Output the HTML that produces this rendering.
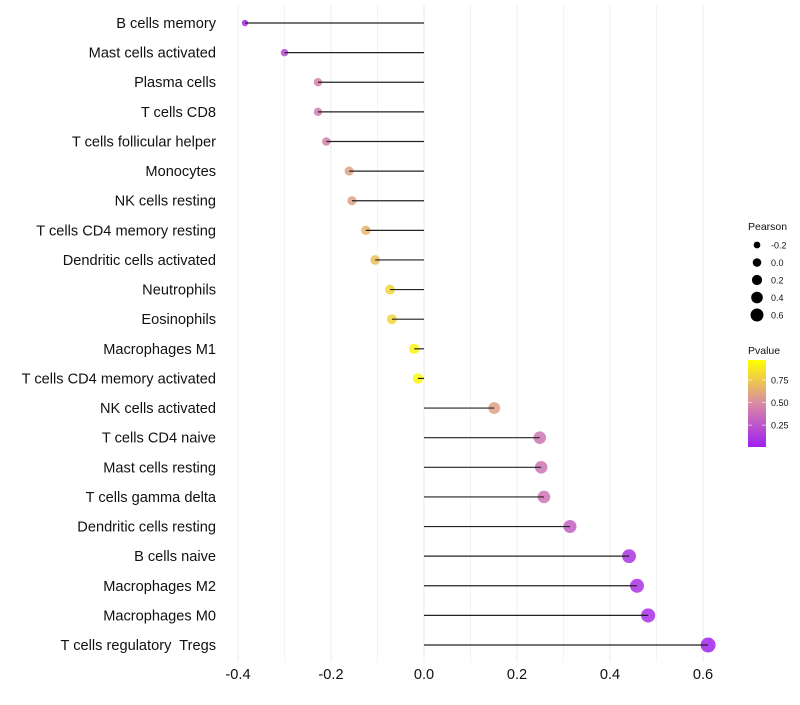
<!DOCTYPE html>
<html><head><meta charset="utf-8"><style>
body{margin:0;background:#fff;font-family:"Liberation Sans",sans-serif}
</style></head><body>
<svg id="chart" width="800" height="700" xmlns="http://www.w3.org/2000/svg" font-family="Liberation Sans, sans-serif">
<g id="grid"></g><g id="points"></g><g id="marks"></g><g id="ylabels"></g><g id="xlabels"></g><g id="legend"></g>
</svg>
<script>
const categories=["B cells memory","Mast cells activated","Plasma cells","T cells CD8","T cells follicular helper","Monocytes","NK cells resting","T cells CD4 memory resting","Dendritic cells activated","Neutrophils","Eosinophils","Macrophages M1","T cells CD4 memory activated","NK cells activated","T cells CD4 naive","Mast cells resting","T cells gamma delta","Dendritic cells resting","B cells naive","Macrophages M2","Macrophages M0","T cells regulatory\u00a0 Tregs"];
const pearson=[-0.385,-0.30,-0.228,-0.228,-0.21,-0.161,-0.155,-0.125,-0.105,-0.073,-0.069,-0.021,-0.013,0.151,0.249,0.252,0.258,0.314,0.441,0.458,0.482,0.611];
const pvalue=[0.05,0.2,0.45,0.45,0.45,0.6,0.6,0.68,0.72,0.82,0.83,0.95,0.97,0.6,0.4,0.4,0.4,0.3,0.1,0.08,0.07,0.02];
const xTicks=[-0.4,-0.2,0.0,0.2,0.4,0.6];
const xTickLabels=["-0.4","-0.2","0.0","0.2","0.4","0.6"];
const sizeLegend=[-0.2,0.0,0.2,0.4,0.6];
const colorLegend=[0.25,0.50,0.75];

const NS="http://www.w3.org/2000/svg";
const x=v=>424+v*465;
const y=i=>23+i*29.62;
const r=v=>Math.sqrt(Math.max(2,28+46*v));
function col(p){
  const s=[[0,[160,32,240]],[0.5,[217,138,165]],[1,[255,255,0]]];
  let a,b;
  if(p<=0.5){a=s[0];b=s[1];}else{a=s[1];b=s[2];}
  const t=(p-a[0])/(b[0]-a[0]);
  const c=a[1].map((v,k)=>Math.round(v+(b[1][k]-v)*t));
  return `rgb(${c[0]},${c[1]},${c[2]})`;
}
function el(tag,attrs,parent){const e=document.createElementNS(NS,tag);for(const k in attrs)e.setAttribute(k,attrs[k]);parent.appendChild(e);return e;}
const grid=document.getElementById('grid'),pts=document.getElementById('points'),marks=document.getElementById('marks'),yl=document.getElementById('ylabels'),xl=document.getElementById('xlabels'),lg=document.getElementById('legend');
for(let v=-0.4;v<=0.65;v+=0.1){
  const g=el('line',{x1:x(v),x2:x(v),y1:5,y2:662,stroke:'#ebebeb','stroke-width':Math.abs(Math.round(v*10))%2===0?1:0.6},grid);
  
  
}
categories.forEach((c,i)=>{
  const p=el('circle',{cx:x(pearson[i]),cy:y(i),r:r(pearson[i]),fill:col(pvalue[i]),'fill-opacity':0.85},pts);
  
  
  const ln=el('line',{x1:x(0),x2:x(pearson[i]),y1:y(i),y2:y(i),stroke:'#222','stroke-width':1.2},marks);
  
  
  const t=el('text',{x:216,y:y(i)+5,'text-anchor':'end','font-size':14.6,fill:'#111'},yl);
  t.textContent=c;
  
  
});
xTicks.forEach((v,i)=>{
  const t=el('text',{x:x(v),y:679,'text-anchor':'middle','font-size':14.6,fill:'#111'},xl);
  t.textContent=xTickLabels[i];
  
  
});
let tt=el('text',{x:748,y:230,'font-size':10.5,fill:'#111'},lg);tt.textContent='Pearson';


sizeLegend.forEach((v,i)=>{
  const cy=245+i*17.5;
  const c=el('circle',{cx:757,cy:cy,r:r(v)-1,fill:'#000'},lg);
  
  
  const t=el('text',{x:771,y:cy+3.5,'font-size':9,fill:'#111'},lg);
  t.textContent=v.toFixed(1);
  
  
});
tt=el('text',{x:748,y:354,'font-size':10.5,fill:'#111'},lg);tt.textContent='Pvalue';


const defs=el('defs',{},lg);
const gr=el('linearGradient',{id:'pg',x1:0,y1:1,x2:0,y2:0},defs);
[[0,0],[0.5,0.5],[1,1]].forEach(s=>el('stop',{offset:s[0],'stop-color':col(s[1])},gr));
const cb=el('rect',{x:748,y:360,width:18,height:87,fill:'url(#pg)'},lg);


const cy=p=>446-(p-0.02)/0.95*86;
colorLegend.forEach(p=>{
  el('line',{x1:748,x2:752,y1:cy(p),y2:cy(p),stroke:'#fff','stroke-opacity':0.6},lg);
  el('line',{x1:762,x2:766,y1:cy(p),y2:cy(p),stroke:'#fff','stroke-opacity':0.6},lg);
  const t=el('text',{x:771,y:cy(p)+3.5,'font-size':9,fill:'#111'},lg);
  t.textContent=p.toFixed(2);
  
  
});
</script>
</body></html>
